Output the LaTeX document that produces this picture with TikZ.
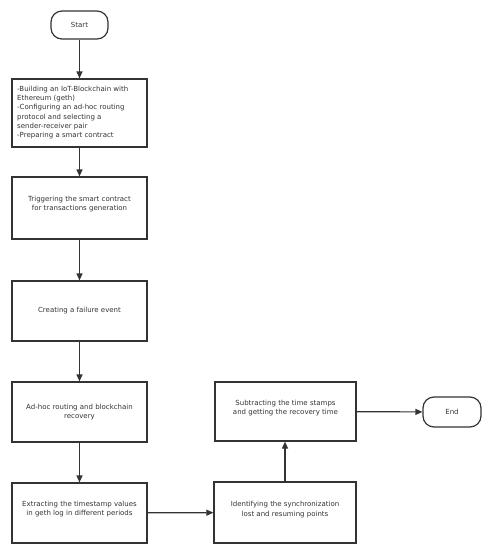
\documentclass[tikz,border=0pt]{standalone}
\usepackage{fontspec}
\setmainfont{DejaVu Sans}
\usetikzlibrary{arrows.meta}
\definecolor{ink}{HTML}{333333}
\begin{document}
\begin{tikzpicture}[x=1pt,y=-1pt,
  every node/.style={font=\fontsize{7}{9.2}\selectfont, text=ink},
  procbox/.style={draw=ink, line width=1.2pt, inner sep=0pt, align=center},
  termbox/.style={draw=ink, line width=1.2pt, rounded corners=11pt, inner sep=0pt},
  flow/.style={draw=ink, line width=1.2pt, -{Triangle[length=7pt,width=6pt]}}]
\useasboundingbox (0,0) rectangle (490,550);
\node[termbox, minimum width=57pt, minimum height=28pt] (start) at (79.5,25) {Start};
\node[procbox, minimum width=135pt, minimum height=68pt] (b1) at (79.5,113) {};
\node[align=left, anchor=north west, inner sep=0pt] (t1) at (17,86) {-Building an IoT-Blockchain with\\Ethereum (geth)\\-Configuring an ad-hoc routing\\protocol and selecting a\\sender-receiver pair\\-Preparing a smart contract};
\node[procbox, minimum width=135pt, minimum height=62pt] (b2) at (79.5,208) {};
\node (t2) at (79.5,204) [align=center] {Triggering the smart contract\\for transactions generation};
\node[procbox, minimum width=135pt, minimum height=60pt] (b3) at (79.5,311) {Creating a failure event};
\node[procbox, minimum width=135pt, minimum height=60pt] (b4) at (79.5,412) {Ad-hoc routing and blockchain\\recovery};
\node[procbox, minimum width=135pt, minimum height=60pt] (b5) at (79.5,513) {};
\node (t5) at (79.5,509) [align=center] {Extracting the timestamp values\\in geth log in different periods};
\node[procbox, minimum width=142pt, minimum height=61pt] (b6) at (285,512.5) {};
\node (t6) at (285,509.5) [align=center] {Identifying the synchronization\\lost and resuming points};
\node[procbox, minimum width=141pt, minimum height=59pt] (b7) at (285.5,411.5) {};
\node (t7) at (285.5,408) [align=center] {Subtracting the time stamps\\and getting the recovery time};
\node[termbox, minimum width=58pt, minimum height=30pt] (end) at (452,412) {End};
\draw[flow] (start) -- (b1);
\draw[flow] (b1) -- (b2);
\draw[flow] (b2) -- (b3);
\draw[flow] (b3) -- (b4);
\draw[flow] (b4) -- (b5);
\draw[flow] (b5) -- (b6);
\draw[flow] (b6.north -| 285,0) -- (b7.south -| 285,0);
\draw[flow] (b7) -- (end);
\end{tikzpicture}
\end{document}
